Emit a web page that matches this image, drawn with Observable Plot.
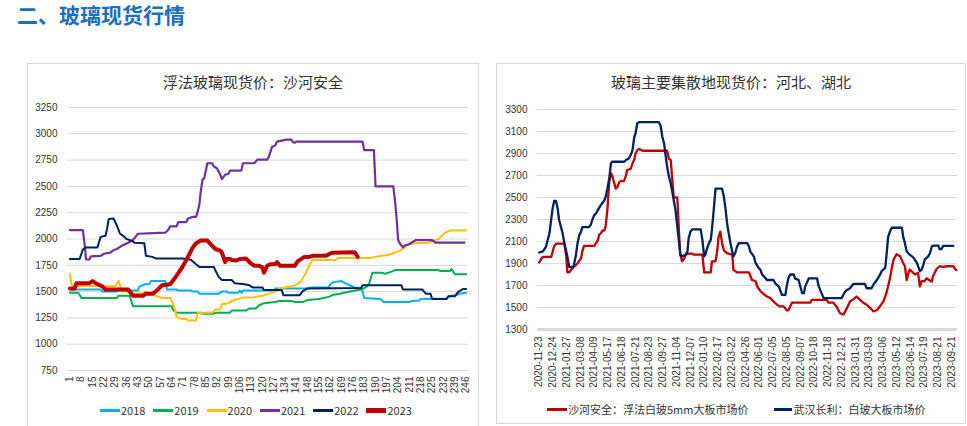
<!DOCTYPE html>
<html><head><meta charset="utf-8">
<script src="https://cdn.jsdelivr.net/npm/d3@7"></script>
<script src="https://cdn.jsdelivr.net/npm/@observablehq/plot@0.6"></script>
<style>
body{margin:0;background:#fff;width:967px;height:426px;overflow:hidden;position:relative;font-family:"Noto Sans CJK SC","Liberation Sans",sans-serif;}
.abs{position:absolute;}
#hdr{left:17px;top:4px;font-size:21px;font-weight:bold;color:#1b6ec2;line-height:1;white-space:nowrap;}
.box{position:absolute;border:1px solid #d9d9d9;box-sizing:border-box;}
.ttl{position:absolute;font-size:15px;line-height:1;color:#333;text-align:center;white-space:nowrap;}
.leg{position:absolute;display:flex;align-items:center;font-size:11px;color:#333;line-height:1;white-space:nowrap;}
.item{display:flex;align-items:center;}
.sw{display:inline-block;width:20px;margin-right:1px;}
</style></head><body>
<div id="hdr" class="abs">二、玻璃现货行情</div>
<div class="box" style="left:27px;top:63px;width:452px;height:380px"></div>
<div class="box" style="left:496px;top:63px;width:470px;height:361px"></div>
<div class="ttl" style="left:27px;top:74px;width:452px">浮法玻璃现货价：沙河安全</div>
<div class="ttl" style="left:496px;top:74px;width:470px">玻璃主要集散地现货价：河北、湖北</div>
<div id="c1" class="abs" style="left:27px;top:95px"></div>
<div id="c2" class="abs" style="left:497px;top:95px"></div>
<div id="l1" class="leg" style="left:100px;top:405px"></div>
<div id="l2" class="leg" style="left:547px;top:404px"></div>
<script>
// ---------- Left chart data: 沙河安全 by trading day of year ----------
const dayTicks = d3.range(1, 247, 7);
const yTicksL = d3.range(750, 3251, 250);
const years = ["2018", "2019", "2020", "2021", "2022", "2023"];

const s2018 = [[1,1520],[20,1520],[21,1500],[30,1500],[31,1520],[37,1520],[38,1510],[43,1510],[44,1550],[46,1560],[47,1570],[50,1570],[51,1600],[60,1600],[61,1520],[67,1520],[68,1510],[76,1510],[77,1500],[80,1500],[81,1480],[93,1480],[95,1500],[98,1500],[99,1490],[105,1490],[106,1510],[107,1490],[108,1510],[127,1510],[128,1530],[148,1530],[150,1540],[161,1540],[162,1570],[164,1590],[169,1600],[171,1580],[174,1560],[177,1540],[181,1530],[182,1500],[183,1440],[193,1430],[195,1400],[211,1400],[212,1410],[217,1415],[218,1430],[234,1435],[236,1460],[240,1465],[242,1480],[246,1490]];
const s2019 = [[1,1490],[6,1490],[7,1470],[8,1440],[30,1440],[31,1460],[38,1460],[40,1360],[64,1360],[65,1320],[67,1300],[82,1300],[83,1290],[90,1290],[91,1300],[100,1300],[101,1320],[110,1320],[112,1340],[116,1340],[118,1370],[121,1390],[128,1400],[130,1410],[138,1410],[140,1400],[145,1400],[148,1420],[155,1430],[158,1440],[161,1450],[164,1470],[168,1480],[174,1500],[181,1520],[184,1540],[186,1570],[188,1680],[194,1680],[196,1670],[200,1690],[202,1705],[229,1705],[230,1695],[236,1695],[237,1715],[239,1665],[246,1665]];
const s2020 = [[1,1670],[2,1570],[3,1550],[9,1555],[29,1550],[31,1600],[32,1560],[33,1500],[38,1500],[40,1480],[46,1485],[48,1500],[50,1480],[52,1470],[54,1460],[58,1440],[63,1440],[65,1380],[67,1260],[70,1240],[73,1240],[74,1225],[79,1225],[80,1300],[89,1300],[91,1330],[94,1330],[95,1380],[99,1390],[101,1410],[105,1430],[108,1445],[114,1445],[120,1460],[126,1490],[129,1510],[131,1530],[134,1540],[140,1555],[144,1600],[147,1680],[149,1750],[151,1800],[165,1800],[167,1820],[186,1820],[190,1830],[194,1840],[198,1850],[202,1870],[205,1890],[208,1920],[210,1945],[214,1960],[223,1965],[229,2000],[231,2030],[233,2060],[236,2080],[246,2080]];
const s2021 = [[1,2085],[9,2085],[10,1960],[11,1805],[13,1805],[14,1835],[20,1840],[22,1860],[26,1870],[28,1895],[30,1905],[33,1935],[37,1965],[40,1990],[43,2050],[60,2060],[62,2090],[63,2120],[67,2120],[68,2160],[73,2160],[74,2195],[77,2210],[79,2210],[80,2260],[81,2320],[82,2465],[83,2565],[84,2575],[86,2720],[89,2720],[90,2690],[92,2670],[93,2640],[94,2610],[95,2570],[96,2590],[97,2610],[99,2620],[100,2650],[107,2650],[108,2720],[115,2720],[117,2755],[123,2755],[124,2780],[126,2875],[128,2890],[129,2925],[132,2935],[135,2945],[138,2945],[139,2920],[140,2915],[141,2925],[182,2925],[183,2845],[189,2845],[190,2500],[201,2500],[202,2370],[203,2200],[204,1990],[205,1960],[207,1920],[208,1940],[210,1945],[215,1990],[225,1990],[227,1965],[245,1965]];
const s2022 = [[1,1810],[7,1810],[9,1900],[11,1920],[18,1920],[20,2020],[23,2030],[24,2100],[25,2190],[28,2195],[30,2130],[32,2050],[34,2030],[36,2000],[39,1985],[41,1965],[47,1960],[48,1840],[52,1830],[54,1815],[70,1815],[74,1810],[76,1800],[79,1760],[81,1735],[90,1735],[91,1700],[93,1640],[95,1610],[101,1610],[103,1580],[109,1570],[112,1560],[114,1540],[120,1540],[121,1515],[132,1515],[133,1465],[143,1465],[145,1505],[148,1530],[181,1535],[182,1560],[206,1560],[207,1520],[219,1520],[221,1480],[224,1480],[225,1430],[234,1430],[235,1455],[239,1455],[241,1495],[244,1525],[246,1525]];
const s2023 = [[1,1530],[4,1530],[5,1580],[13,1580],[15,1600],[17,1580],[21,1550],[23,1520],[37,1520],[40,1460],[46,1460],[48,1480],[52,1480],[54,1500],[58,1560],[63,1570],[66,1630],[70,1720],[73,1800],[77,1920],[79,1960],[82,1985],[86,1985],[88,1950],[91,1905],[94,1890],[95,1870],[97,1780],[98,1810],[100,1810],[101,1800],[104,1795],[106,1810],[110,1815],[112,1780],[115,1745],[118,1745],[120,1730],[121,1680],[123,1745],[125,1760],[128,1760],[129,1780],[131,1745],[140,1745],[142,1790],[146,1830],[149,1830],[151,1840],[159,1840],[163,1870],[177,1875],[179,1830]];
const seriesL = [s2018, s2019, s2020, s2021, s2022, s2023];
const colorsL = ["#00b0f0", "#00b050", "#ffc000", "#7030a0", "#002060", "#c00000"];
const widthsL = [2, 2, 2, 2.2, 2, 4];

// ---------- Right chart data: 河北、湖北 by trading-day index ----------
const dateLabels = ["2020-11-23","2020-12-24","2021-01-27","2021-03-08","2021-04-09","2021-05-17","2021-06-18","2021-07-21","2021-08-23","2021-09-27","2021-11-04","2021-12-07","2022-01-10","2022-02-17","2022-03-22","2022-04-26","2022-06-01","2022-07-05","2022-08-05","2022-09-07","2022-10-18","2022-11-18","2022-12-21","2023-01-31","2023-03-03","2023-04-06","2023-05-12","2023-06-14","2023-07-19","2023-08-21","2023-09-21"];
const labelStep = 23;
const yTicksR = d3.range(1300, 3301, 200);
const shaheName = "沙河安全：浮法白玻5mm大板市场价";
const wuhanName = "武汉长利：白玻大板市场价";
const shahe = [[0,1910],[3,1940],[6,1960],[20,1960],[22,2000],[25,2060],[28,2080],[42,2080],[45,1970],[47,1820],[50,1820],[53,1840],[58,1870],[64,1900],[70,1950],[72,2010],[75,2060],[92,2060],[98,2110],[100,2160],[103,2175],[106,2200],[109,2200],[111,2235],[114,2390],[117,2640],[120,2720],[122,2700],[125,2640],[128,2580],[131,2600],[134,2640],[136,2650],[142,2650],[145,2700],[147,2750],[153,2760],[156,2810],[159,2845],[161,2900],[164,2930],[167,2940],[170,2935],[173,2925],[214,2925],[217,2850],[220,2840],[223,2640],[225,2500],[231,2500],[234,2170],[236,1980],[239,1920],[242,1940],[245,1980],[248,1990],[256,1990],[259,1980],[273,1980],[276,1820],[287,1820],[289,1920],[295,1920],[298,2020],[300,2140],[303,2190],[306,2085],[309,2020],[314,1995],[323,1980],[325,1840],[331,1820],[351,1820],[356,1750],[362,1740],[365,1690],[370,1650],[376,1620],[381,1600],[387,1585],[392,1555],[398,1525],[403,1510],[409,1510],[414,1475],[417,1475],[420,1510],[423,1545],[454,1545],[456,1570],[481,1570],[484,1545],[492,1545],[498,1505],[503,1450],[509,1435],[512,1465],[515,1495],[520,1555],[526,1575],[531,1600],[537,1570],[543,1540],[548,1525],[554,1495],[559,1465],[565,1475],[570,1510],[576,1555],[581,1630],[587,1765],[590,1860],[593,1935],[598,1985],[604,1965],[609,1905],[612,1875],[615,1750],[618,1815],[620,1845],[626,1815],[629,1800],[634,1815],[637,1690],[640,1740],[645,1740],[648,1765],[657,1735],[659,1785],[665,1850],[670,1875],[676,1870],[682,1875],[693,1875],[696,1850],[698,1840]];
const wuhan = [[0,2000],[6,2010],[11,2050],[17,2175],[22,2390],[25,2470],[28,2470],[31,2390],[33,2300],[39,2175],[42,2085],[47,1965],[50,1870],[56,1865],[58,1890],[61,1965],[64,2085],[67,2160],[70,2190],[72,2230],[83,2230],[86,2250],[89,2300],[92,2340],[95,2355],[98,2385],[103,2430],[109,2475],[111,2505],[114,2580],[117,2670],[120,2810],[122,2825],[142,2825],[145,2840],[150,2855],[153,2885],[156,2930],[159,3050],[161,3080],[164,3175],[167,3185],[200,3185],[203,3155],[206,3050],[209,2990],[211,2900],[214,2780],[217,2690],[220,2630],[223,2540],[225,2475],[228,2385],[231,2235],[234,2085],[236,1980],[239,1965],[245,1980],[248,2010],[250,2130],[253,2190],[256,2210],[270,2210],[273,2115],[276,1965],[278,1980],[281,2040],[284,2085],[287,2115],[289,2210],[292,2390],[295,2580],[306,2580],[309,2505],[312,2385],[314,2280],[317,2175],[320,2085],[323,2010],[325,1965],[328,1995],[331,2055],[334,2085],[348,2085],[351,2055],[353,2010],[359,1965],[362,1905],[367,1860],[370,1845],[373,1800],[378,1770],[381,1750],[392,1750],[395,1720],[401,1690],[403,1660],[406,1615],[412,1615],[414,1690],[417,1765],[420,1800],[426,1800],[428,1765],[434,1750],[437,1690],[440,1630],[443,1630],[445,1690],[451,1765],[465,1765],[467,1705],[470,1660],[476,1585],[506,1585],[512,1645],[515,1660],[520,1675],[526,1715],[545,1715],[548,1675],[556,1675],[559,1705],[565,1750],[570,1795],[573,1830],[579,1860],[581,1965],[584,2145],[587,2190],[590,2225],[607,2225],[609,2145],[612,2085],[615,2010],[620,1980],[626,1955],[632,1905],[637,1830],[640,1845],[643,1890],[645,1935],[651,1965],[654,1995],[657,2055],[659,2062],[668,2062],[670,2030],[673,2030],[676,2060],[693,2060]];

// ---------- Drawing ----------
const numFont = "'Liberation Sans', Arial, 'Noto Sans CJK SC', sans-serif";
const fmt = d => String(d);

const p1 = Plot.plot({
  width: 451, height: 305,
  marginLeft: 40, marginRight: 10, marginTop: 12, marginBottom: 30,
  style: {fontFamily: numFont, fontSize: "10px", color: "#333", background: "transparent", overflow: "visible"},
  x: {domain: [-0.5, 247.5]},
  y: {domain: [750, 3250]},
  marks: [
    Plot.gridY(yTicksL, {stroke: "#d9d9d9", strokeOpacity: 1}),
    Plot.axisY(yTicksL, {tickSize: 0, tickPadding: 10, tickFormat: fmt, label: null}),
    Plot.axisX(dayTicks, {tickSize: 0, tickPadding: 6, tickRotate: -90, tickFormat: fmt, label: null}),
    ...seriesL.map((s, i) => Plot.line(s, {x: d => d[0], y: d => d[1], stroke: colorsL[i], strokeWidth: widthsL[i], strokeLinejoin: "round", strokeLinecap: "round"}))
  ]
});
document.getElementById("c1").appendChild(p1);

const p2 = Plot.plot({
  width: 468, height: 300,
  marginLeft: 40, marginRight: 8, marginTop: 14, marginBottom: 66,
  style: {fontFamily: numFont, fontSize: "10px", color: "#333", background: "transparent", overflow: "visible"},
  x: {domain: [-3, 700]},
  y: {domain: [1300, 3300]},
  marks: [
    Plot.gridY(yTicksR.filter(v => v > 1300), {stroke: "#d9d9d9", strokeOpacity: 1}),
    Plot.ruleY([1300], {stroke: "#d9d9d9", strokeWidth: 3}),
    Plot.axisY(yTicksR, {tickSize: 0, tickPadding: 10, tickFormat: fmt, label: null}),
    Plot.axisX(dateLabels.map((d, i) => i * labelStep), {tickSize: 0, tickPadding: 7, tickRotate: -90, tickFormat: v => dateLabels[Math.round(v / labelStep)], label: null}),
    Plot.line(shahe, {x: d => d[0], y: d => d[1], stroke: "#c00000", strokeWidth: 2.3, strokeLinejoin: "round"}),
    Plot.line(wuhan, {x: d => d[0], y: d => d[1], stroke: "#002060", strokeWidth: 2.3, strokeLinejoin: "round"})
  ]
});
document.getElementById("c2").appendChild(p2);

// ---------- Legends ----------
function legendItem(color, thick, text, width, gapAfter, lineW) {
  const it = document.createElement("div");
  it.className = "item";
  if (width) it.style.width = width + "px";
  if (gapAfter) it.style.marginRight = gapAfter + "px";
  const sw = document.createElement("span");
  sw.className = "sw";
  sw.style.height = thick + "px";
  sw.style.background = color;
  if (lineW) sw.style.width = lineW + "px";
  const tx = document.createElement("span");
  tx.textContent = text;
  it.appendChild(sw); it.appendChild(tx);
  return it;
}
const l1 = document.getElementById("l1");
years.forEach((y, i) => l1.appendChild(legendItem(colorsL[i], i === 5 ? 5 : 3, y, 53.3, 0)));
const l2 = document.getElementById("l2");
l2.appendChild(legendItem("#c00000", 3, shaheName, 0, 26, 20));
l2.appendChild(legendItem("#002060", 3, wuhanName, 0, 0, 18));
</script>
</body></html>
